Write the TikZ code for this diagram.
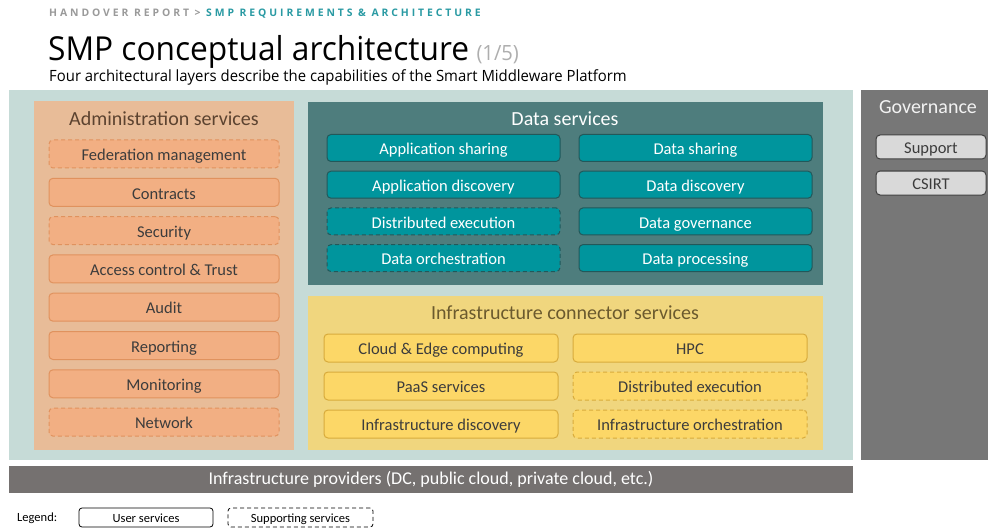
\documentclass[tikz,border=0pt]{standalone}
\usepackage{fontspec}
\setmainfont{Carlito}
\newfontfamily\headfont[FakeStretch=0.96]{Open Sans}
\newfontfamily\capsfont[LetterSpace=28]{Open Sans}
\usetikzlibrary{positioning}

\definecolor{pagebg}{HTML}{C6DBD7}
\definecolor{admouter}{HTML}{E8BC98}
\definecolor{admfill}{HTML}{F2AF83}
\definecolor{admline}{HTML}{E0925E}
\definecolor{admtitle}{HTML}{5C4330}
\definecolor{dataouter}{HTML}{4E7D7D}
\definecolor{datafill}{HTML}{00959D}
\definecolor{dataline}{HTML}{22585A}
\definecolor{infraouter}{HTML}{F0D67E}
\definecolor{infrafill}{HTML}{FCD767}
\definecolor{infraline}{HTML}{D8AB3C}
\definecolor{infratitle}{HTML}{6B5A2E}
\definecolor{govouter}{HTML}{777777}
\definecolor{govfill}{HTML}{D9D9D9}
\definecolor{govline}{HTML}{404040}
\definecolor{provbar}{HTML}{757170}
\definecolor{itemtext}{HTML}{3C3C3C}
\definecolor{headgray}{HTML}{9A9A9A}
\definecolor{headteal}{HTML}{2A9AA3}

\tikzstyle{layer} = [inner sep=0, outer sep=0, anchor=north west]
\tikzstyle{layertitle} = [inner sep=0, font=\fontsize{20}{24}\selectfont]
\tikzstyle{item} = [line width=1pt, rounded corners=4pt, inner sep=0, outer sep=0, text height=14pt, text depth=0.5pt, font=\fontsize{16.5}{19}\selectfont]
\tikzstyle{adminitem} = [item, draw=admline, fill=admfill, text=itemtext, minimum width=230pt, minimum height=28pt]
\tikzstyle{dataitem} = [item, draw=dataline, fill=datafill, text=white, minimum width=233pt, minimum height=27pt]
\tikzstyle{infraitem} = [item, draw=infraline, fill=infrafill, text=itemtext, minimum width=234pt, minimum height=28pt]
\tikzstyle{govitem} = [item, draw=govline, fill=govfill, text=itemtext, minimum width=110pt, minimum height=24pt]
\tikzstyle{support} = [dash pattern=on 4pt off 3pt]
\tikzstyle{legenditem} = [draw, line width=0.8pt, rounded corners=3pt, inner sep=0, text height=11pt, text depth=0.5pt, minimum height=19pt, font=\fontsize{12.5}{15}\selectfont]

\begin{document}
\begin{tikzpicture}[x=1pt, y=-1pt]
    \useasboundingbox (0,0) rectangle (988,532);

    % heading
    \node[anchor=west, inner sep=0] (crumb) at (49,14) {\capsfont\bfseries\fontsize{10.4}{12}\selectfont\color{headgray}HANDOVER REPORT > \color{headteal}SMP REQUIREMENTS \& ARCHITECTURE};
    \node[anchor=base west, inner sep=0] (title) at (48,61) {\headfont\fontsize{33}{38}\selectfont SMP conceptual architecture};
    \node[anchor=base west, inner sep=0, text=headgray!80] (pagenum) at ([xshift=7pt]title.base east) {\headfont\fontsize{21}{24}\selectfont (1/5)};
    \node[anchor=base west, inner sep=0] (subtitle) at (49,82) {\headfont\fontsize{15.5}{18}\selectfont Four architectural layers describe the capabilities of the Smart Middleware Platform};

    % layers
    \node[layer, fill=pagebg, minimum width=844pt, minimum height=370pt] (platform) at (9,90) {};
    \node[layer, fill=admouter, minimum width=260pt, minimum height=349pt] (admin) at (34,101) {};
    \node[layer, fill=dataouter, minimum width=515pt, minimum height=183pt] (data) at (308,102) {};
    \node[layer, fill=infraouter, minimum width=515pt, minimum height=154pt] (infra) at (308,296) {};
    \node[layer, fill=govouter, minimum width=127pt, minimum height=370pt] (gov) at (861,90) {};
    \node[layer, fill=provbar, minimum width=844pt, minimum height=27pt, text=white, font=\fontsize{18}{21}\selectfont] (providers) at (9,466) {Infrastructure providers (DC, public cloud, private cloud, etc.)};

    % administration services
    \node[layertitle, text=admtitle] (admintitle) at (164,119) {Administration services};
    \node[adminitem, support] (federation) at (164,154) {Federation management};
    \node[adminitem, below=10.3pt of federation] (contracts) {Contracts};
    \node[adminitem, support, below=10.3pt of contracts] (security) {Security};
    \node[adminitem, below=10.3pt of security] (access) {Access control \& Trust};
    \node[adminitem, below=10.3pt of access] (audit) {Audit};
    \node[adminitem, below=10.3pt of audit] (reporting) {Reporting};
    \node[adminitem, below=10.3pt of reporting] (monitoring) {Monitoring};
    \node[adminitem, support, below=10.3pt of monitoring] (network) {Network};

    % data services
    \node[layertitle, text=white] (datatitle) at (565,119) {Data services};
    \node[dataitem] (appsharing) at (443.5,148) {Application sharing};
    \node[dataitem, below=9.7pt of appsharing] (appdiscovery) {Application discovery};
    \node[dataitem, support, below=9.7pt of appdiscovery] (distexec) {Distributed execution};
    \node[dataitem, support, below=9.7pt of distexec] (dataorch) {Data orchestration};
    \node[dataitem] (datasharing) at (695.5,148) {Data sharing};
    \node[dataitem, below=9.7pt of datasharing] (datadiscovery) {Data discovery};
    \node[dataitem, below=9.7pt of datadiscovery] (datagov) {Data governance};
    \node[dataitem, below=9.7pt of datagov] (dataproc) {Data processing};

    % infrastructure connector services
    \node[layertitle, text=infratitle] (infratitle) at (565,313) {Infrastructure connector services};
    \node[infraitem] (cloudedge) at (441,348) {Cloud \& Edge computing};
    \node[infraitem, below=10pt of cloudedge] (paas) {PaaS services};
    \node[infraitem, below=10pt of paas] (infradiscovery) {Infrastructure discovery};
    \node[infraitem] (hpc) at (690,348) {HPC};
    \node[infraitem, support, below=10pt of hpc] (infraexec) {Distributed execution};
    \node[infraitem, support, below=10pt of infraexec] (infraorch) {Infrastructure orchestration};

    % governance
    \node[layertitle, text=white!95!black] (govtitle) at (928,107) {Governance};
    \node[govitem] (support) at (931,147) {Support};
    \node[govitem, below=12pt of support] (csirt) {CSIRT};

    % legend
    \node[anchor=west, inner sep=0, font=\fontsize{12.5}{15}\selectfont] (legend) at (17,518) {Legend:};
    \node[legenditem, minimum width=134pt] (usersvc) at (146,517.5) {User services};
    \node[legenditem, support, minimum width=145pt] (supportsvc) at (300.5,517.5) {Supporting services};
\end{tikzpicture}
\end{document}
